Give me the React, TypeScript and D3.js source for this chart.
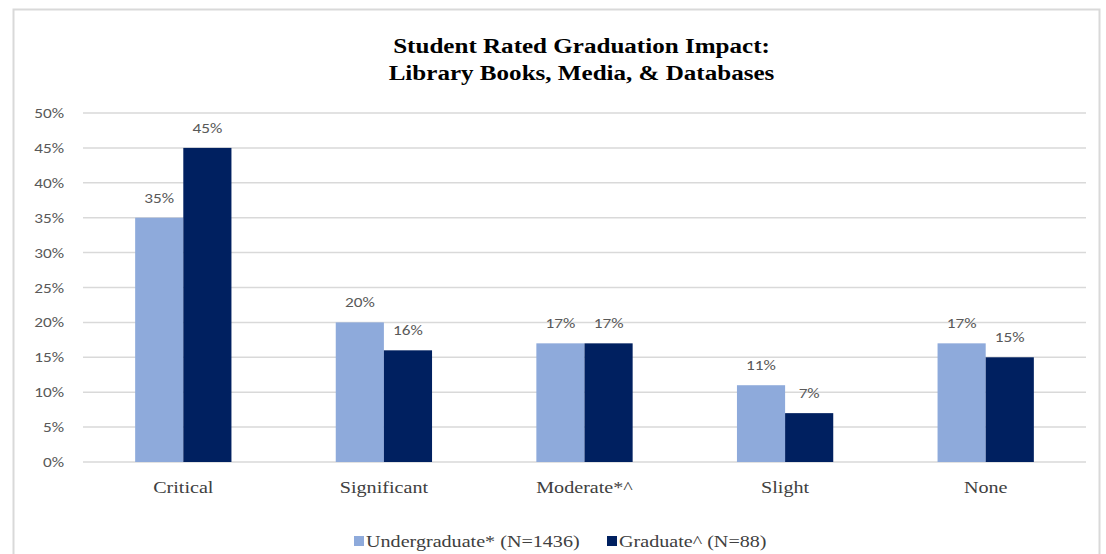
import { useEffect, useRef } from "react";
import * as d3 from "d3";

const categories = ["Critical", "Significant", "Moderate*^", "Slight", "None"];
const seriesNames = ["Undergraduate* (N=1436)", "Graduate^ (N=88)"];
const undergraduate = [35, 20, 17, 11, 17];
const graduate = [45, 16, 17, 7, 15];
const yTicks = [0, 5, 10, 15, 20, 25, 30, 35, 40, 45, 50];
const titleLines = ["Student Rated Graduation Impact:", "Library Books, Media, & Databases"];

const colors = ["#8eaadb", "#002060"];
const SANS = "Carlito, 'Liberation Sans', Arial, sans-serif";
const SERIF = "'Liberation Serif', 'Times New Roman', serif";
const STRETCH = 1.15; // the source picture is a bit wider than tall

export default function App() {
  const svgRef = useRef<SVGSVGElement>(null);

  useEffect(() => {
    if (!svgRef.current) return;
    const svg = d3.select(svgRef.current);
    svg.selectAll("*").remove();

    const width = 1106;
    const height = 554;
    const plot = { left: 83, right: 1086, top: 113, bottom: 462 };

    // text helper: places text at (x, y) and widens it a little
    const label = (x: number, y: number, txt: string) =>
      svg.append("text")
        .attr("transform", `translate(${x},${y}) scale(${STRETCH},1)`)
        .text(txt);

    // ── Frame ─────────────────────────────────────────────
    svg.append("rect")
      .attr("x", 13.5).attr("y", 9.5)
      .attr("width", 1086).attr("height", 600)
      .attr("fill", "white")
      .attr("stroke", "#d9d9d9")
      .attr("stroke-width", 2);

    // ── Scales ────────────────────────────────────────────
    const x0 = d3.scaleBand<string>()
      .domain(categories)
      .range([plot.left, plot.right])
      .paddingInner(0.52)
      .paddingOuter(0.26);

    const x1 = d3.scaleBand<number>()
      .domain([0, 1])
      .range([0, x0.bandwidth()]);

    const y = d3.scaleLinear().domain([0, 50]).range([plot.bottom, plot.top]);

    // ── Gridlines + y labels ──────────────────────────────
    yTicks.forEach((t) => {
      svg.append("line")
        .attr("x1", plot.left).attr("x2", plot.right)
        .attr("y1", y(t)).attr("y2", y(t))
        .attr("stroke", "#d9d9d9")
        .attr("stroke-width", 1.5);
      label(plot.left - 19, y(t) + 5, `${t}%`)
        .attr("text-anchor", "end")
        .attr("font-family", SANS)
        .attr("font-size", 15)
        .attr("fill", "#595959");
    });

    // ── Bars + value labels ───────────────────────────────
    const series = [undergraduate, graduate];
    series.forEach((vals, si) => {
      vals.forEach((v, i) => {
        const bx = (x0(categories[i]) ?? 0) + (x1(si) ?? 0);
        svg.append("rect")
          .attr("x", bx)
          .attr("y", y(v))
          .attr("width", x1.bandwidth())
          .attr("height", y(0) - y(v))
          .attr("fill", colors[si]);
        label(bx + x1.bandwidth() / 2, y(v) - 15, `${v}%`)
          .attr("text-anchor", "middle")
          .attr("font-family", SANS)
          .attr("font-size", 15)
          .attr("fill", "#595959");
      });
    });

    // ── Category labels ───────────────────────────────────
    categories.forEach((c) => {
      label((x0(c) ?? 0) + x0.bandwidth() / 2, plot.bottom + 31, c)
        .attr("text-anchor", "middle")
        .attr("font-family", SERIF)
        .attr("font-size", 17.5)
        .attr("fill", "#404040");
    });

    // ── Title ─────────────────────────────────────────────
    titleLines.forEach((line, i) => {
      label((plot.left + plot.right) / 2 - 3, 53 + i * 27, line)
        .attr("text-anchor", "middle")
        .attr("font-family", SERIF)
        .attr("font-weight", "bold")
        .attr("font-size", 21.8)
        .attr("fill", "#000");
    });

    // ── Legend ────────────────────────────────────────────
    const legendX = [354, 607];
    seriesNames.forEach((name, i) => {
      svg.append("rect")
        .attr("x", legendX[i]).attr("y", 536)
        .attr("width", 10).attr("height", 10)
        .attr("fill", colors[i]);
      label(legendX[i] + 12, 547, name)
        .attr("font-family", SERIF)
        .attr("font-size", 17.5)
        .attr("fill", "#404040");
    });

    svg.attr("width", width).attr("height", height);
  }, []);

  return (
    <svg
      ref={svgRef}
      width={1106}
      height={554}
      style={{ position: "absolute", left: 0, top: 0, background: "white" }}
    />
  );
}
